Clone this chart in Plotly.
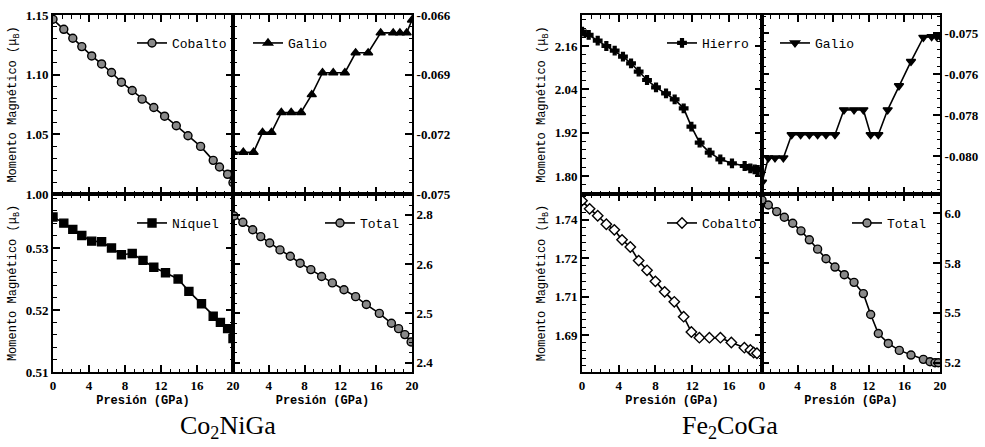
import plotly.graph_objects as go

W, H = 985, 447

# ---------------- data: Co2NiGa ----------------
co1_p = [0, 1.2, 2.2, 3.2, 4.3, 5.4, 6.5, 7.6, 8.8, 9.9, 11.2, 12.4, 13.7, 15.0, 16.4, 17.8, 18.5, 19.4, 20.0]
co1_m = [1.1464, 1.138, 1.1305, 1.1235, 1.1157, 1.109, 1.1018, 1.0937, 1.0867, 1.0795, 1.0725,
         1.0652, 1.0572, 1.0488, 1.0399, 1.0282, 1.0226, 1.0165, 1.0095]

ga1_p = [0, 1.15, 2.3, 3.3, 4.3, 5.4, 6.5, 7.6, 8.8, 10.0, 11.2, 12.5, 13.7, 15.1, 16.5, 17.9, 18.65, 19.4, 20.0]
ga1_m = [-0.0729, -0.0729, -0.0729, -0.0719, -0.0719, -0.0709, -0.0709, -0.0709, -0.0700, -0.0689,
         -0.0689, -0.0689, -0.0679, -0.0679, -0.0669, -0.0669, -0.0669, -0.0669, -0.06625]

ni_p = [0, 1.2, 2.2, 3.2, 4.3, 5.4, 6.5, 7.6, 8.8, 10.0, 11.2, 12.5, 13.9, 15.1, 16.5, 17.8, 18.6, 19.4, 20.0]
ni_m = [0.5350, 0.5340, 0.5330, 0.5320, 0.5311, 0.5310, 0.5300, 0.5289, 0.5291, 0.5280, 0.5269,
        0.5260, 0.5250, 0.5230, 0.5210, 0.5190, 0.5180, 0.5170, 0.5154]

tot1_p = [0.1, 1.1, 2.2, 3.1, 4.1, 5.25, 6.4, 7.5, 8.7, 9.9, 11.1, 12.4, 13.7, 14.9, 16.35, 17.7, 18.5, 19.2, 19.9]
tot1_m = [2.698, 2.685, 2.670, 2.656, 2.643, 2.629, 2.616, 2.602, 2.589, 2.575, 2.562,
          2.548, 2.534, 2.518, 2.500, 2.480, 2.469, 2.457, 2.442]

# ---------------- data: Fe2CoGa ----------------
fe_p = [0, 0.73, 1.71, 2.65, 3.56, 4.46, 5.34, 6.17, 7.08, 8.06, 9.15, 10.09, 11.07, 11.91, 12.81,
        13.9, 15.06, 16.33, 17.71, 18.33, 18.8, 19.13]
fe_m = [2.1997, 2.1905, 2.1748, 2.16, 2.1471, 2.1305, 2.112, 2.0889, 2.0658, 2.0455, 2.0289,
        2.0122, 1.9873, 1.9365, 1.8922, 1.8645, 1.846, 1.835, 1.8276, 1.8211, 1.8183, 1.8165]

ga2_p = [0, 0.71, 1.46, 2.4, 3.33, 4.34, 5.32, 6.25, 7.19, 8.2, 9.21, 10.34, 11.39, 12.21, 13.07,
         14.12, 15.39, 16.74, 18.13, 19.06, 19.63, 20.0]
ga2_m = [-0.08045, -0.07956, -0.07956, -0.07956, -0.07871, -0.07871, -0.07871, -0.07871, -0.07871,
         -0.07871, -0.07780, -0.07780, -0.07780, -0.07871, -0.07871, -0.07780, -0.07692, -0.07603,
         -0.07515, -0.07512, -0.07512, -0.07510]

cob2_p = [0, 0.83, 1.71, 2.65, 3.52, 4.36, 5.26, 6.17, 7.08, 7.99, 9.0, 10.05, 11.07, 11.91, 12.78,
          13.87, 15.07, 16.26, 17.68, 18.33, 18.69, 19.05]
cob2_m = [1.7475, 1.7443, 1.7416, 1.7383, 1.7361, 1.7322, 1.7294, 1.7241, 1.7203, 1.7160, 1.7119,
          1.7080, 1.7022, 1.6962, 1.6940, 1.6940, 1.6940, 1.6921, 1.6901, 1.6892, 1.6882, 1.6879]

tot2_p = [0, 0.71, 1.65, 2.51, 3.45, 4.38, 5.32, 6.25, 7.19, 8.2, 9.25, 10.34, 11.39, 12.21, 13.07,
          14.19, 15.43, 16.74, 18.13, 18.88, 19.44, 19.81]
tot2_m = [6.0667, 6.0417, 6.0083, 5.98, 5.95, 5.9117, 5.8667, 5.82, 5.7717, 5.73, 5.6917, 5.6533,
          5.5967, 5.4917, 5.3967, 5.3467, 5.3117, 5.2883, 5.2667, 5.255, 5.25, 5.25]

# ---------------- tick labels ----------------
co1_tv, co1_tt = [1.00, 1.05, 1.10, 1.15], ["1.00", "1.05", "1.10", "1.15"]
ga1_tv, ga1_tt = [-0.075, -0.072, -0.069, -0.066], ["-0.075", "-0.072", "-0.069", "-0.066"]
ni_tv, ni_tt = [0.51, 0.52, 0.53], ["0.51", "0.52", "0.53"]
tot1_tv, tot1_tt = [2.4, 2.5, 2.6, 2.7], ["2.4", "2.5", "2.6", "2.8"]
fe_tv, fe_tt = [1.80, 1.92, 2.04, 2.16], ["1.80", "1.92", "2.04", "2.16"]
ga2_tv, ga2_tt = [-0.0795, -0.078, -0.0765, -0.075], ["-0.080", "-0.078", "-0.076", "-0.075"]
cob2_tv, cob2_tt = [1.695, 1.71, 1.725, 1.74], ["1.69", "1.71", "1.72", "1.74"]
tot2_tv, tot2_tt = [5.25, 5.5, 5.75, 6.0], ["5.2", "5.5", "5.8", "6.0"]

names = ["Cobalto", "Galio", "Níquel", "Total", "Hierro", "Galio", "Cobalto", "Total"]
captions = ["Co<sub>2</sub>NiGa", "Fe<sub>2</sub>CoGa"]
xtitle = "Presión (GPa)"
ytitle = "Momento Magnético (μ<sub>B</sub>)"

# ---------------- layout geometry (pixels) ----------------
def px_x(a, b):
    return [a / W, b / W]

def px_y(top, bottom):
    return [1 - bottom / H, 1 - top / H]

TOP = px_y(15, 194)
BOT = px_y(194, 372)

panels = [
    dict(p=co1_p, m=co1_m, xd=px_x(53, 233), yd=TOP, yr=[1.00, 1.15], tv=co1_tv, tt=co1_tt, mn=0.01,
         side="left", xr=[0, 20], xlab=None, sym="circle", fill="#8a8a8a", leg=(132, 43), ytitle=True),
    dict(p=ga1_p, m=ga1_m, xd=px_x(233, 412), yd=TOP, yr=[-0.075, -0.066], tv=ga1_tv, tt=ga1_tt, mn=0.0006,
         side="right", xr=[0, 20], xlab=None, sym="triangle-up", fill="black", leg=(248, 43), ytitle=False),
    dict(p=ni_p, m=ni_m, xd=px_x(53, 233), yd=BOT, yr=[0.51, 0.5387], tv=ni_tv, tt=ni_tt, mn=0.002,
         side="left", xr=[0, 20], xlab=[0, 4, 8, 12, 16, 20], sym="square", fill="black", leg=(132, 223), ytitle=True),
    dict(p=tot1_p, m=tot1_m, xd=px_x(233, 412), yd=BOT, yr=[2.381, 2.7425], tv=tot1_tv, tt=tot1_tt, mn=0.02,
         side="right", xr=[0, 20], xlab=[4, 8, 12, 16, 20], sym="circle", fill="#8a8a8a", leg=(320, 223), ytitle=False),
    dict(p=fe_p, m=fe_m, xd=px_x(582, 762), yd=TOP, yr=[1.750, 2.2458], tv=fe_tv, tt=fe_tt, mn=0.024,
         side="left", xr=[0, 19.6], xlab=None, sym="cross", fill="black", leg=(662, 43), ytitle=True),
    dict(p=ga2_p, m=ga2_m, xd=px_x(762, 940), yd=TOP, yr=[-0.08088, -0.07433], tv=ga2_tv, tt=ga2_tt, mn=0.0003,
         side="right", xr=[0, 20], xlab=None, sym="triangle-down", fill="black", leg=(775, 43), ytitle=False),
    dict(p=cob2_p, m=cob2_m, xd=px_x(582, 762), yd=BOT, yr=[1.6806, 1.7501], tv=cob2_tv, tt=cob2_tt, mn=0.003,
         side="left", xr=[0, 19.6], xlab=[0, 4, 8, 12, 16], sym="diamond", fill="white", leg=(662, 223), ytitle=True),
    dict(p=tot2_p, m=tot2_m, xd=px_x(762, 940), yd=BOT, yr=[5.2033, 6.0967], tv=tot2_tv, tt=tot2_tt, mn=0.05,
         side="right", xr=[0, 20], xlab=[0, 4, 8, 12, 16, 20], sym="circle", fill="#8a8a8a", leg=(847, 223), ytitle=False),
]

tickfont = dict(family="Liberation Serif", size=13, color="black", weight="bold")
monofont = dict(family="Liberation Mono", size=12, color="black")

fig = go.Figure()
layout = dict(
    width=W, height=H, margin=dict(l=0, r=0, t=0, b=0),
    paper_bgcolor="white", plot_bgcolor="white", template="none",
    showlegend=True,
)

for i, (pn, name) in enumerate(zip(panels, names), start=1):
    sfx = "" if i == 1 else str(i)
    legname = "legend" if i == 1 else f"legend{i}"
    msize = 7 if pn["sym"] == "cross" else 8
    fig.add_trace(go.Scatter(
        x=pn["p"], y=pn["m"], mode="lines+markers", name=name,
        xaxis=f"x{sfx}", yaxis=f"y{sfx}", legend=legname,
        line=dict(color="black", width=1.6),
        marker=dict(symbol=pn["sym"], size=msize,
                    color=pn["fill"], line=dict(color="black", width=1.4)),
    ))
    xa = dict(
        domain=pn["xd"], anchor=f"y{sfx}", range=pn["xr"], showgrid=False, zeroline=False,
        showline=True, linecolor="black", linewidth=2, mirror="ticks",
        ticks="inside", ticklen=7, tickwidth=1.5, tickcolor="black",
        tickmode="linear", tick0=0, dtick=4,
        minor=dict(dtick=1, tick0=0, ticks="inside", ticklen=3.5, tickwidth=1.2, tickcolor="black"),
        tickfont=tickfont, automargin=False,
    )
    if pn["xlab"] is None:
        xa["showticklabels"] = False
    else:
        xa.update(tickmode="array", tickvals=pn["xlab"], ticktext=[str(v) for v in pn["xlab"]])
        xa["title"] = dict(text=xtitle, font=dict(family="Liberation Mono", size=12, color="black", weight="bold"),
                           standoff=4)
    ya = dict(
        domain=pn["yd"], anchor=f"x{sfx}", range=pn["yr"], side=pn["side"], showgrid=False, zeroline=False,
        showline=True, linecolor="black", linewidth=2, mirror="ticks",
        ticks="inside", ticklen=7, tickwidth=1.5, tickcolor="black",
        tickmode="array", tickvals=pn["tv"], ticktext=pn["tt"],
        minor=dict(dtick=pn["mn"], tick0=pn["tv"][0], ticks="inside", ticklen=3.5, tickwidth=1.2, tickcolor="black"),
        tickfont=tickfont, automargin=False,
    )
    if pn["ytitle"]:
        ya["title"] = dict(text=ytitle, font=monofont, standoff=6)
    layout[f"xaxis{sfx}"] = xa
    layout[f"yaxis{sfx}"] = ya
    lx, ly = pn["leg"]
    layout[legname] = dict(
        x=lx / W, y=1 - ly / H, xanchor="left", yanchor="middle",
        bgcolor="rgba(0,0,0,0)", borderwidth=0,
        font=dict(family="Liberation Mono", size=13, color="black"),
        itemwidth=30,
    )

layout["annotations"] = [
    dict(text=captions[0], x=228 / W, y=1 - 445 / H, xref="paper", yref="paper",
         xanchor="center", yanchor="bottom", showarrow=False,
         font=dict(family="Liberation Serif", size=26, color="black")),
    dict(text=captions[1], x=730 / W, y=1 - 445 / H, xref="paper", yref="paper",
         xanchor="center", yanchor="bottom", showarrow=False,
         font=dict(family="Liberation Serif", size=26, color="black")),
]

fig.update_layout(**layout)
fig.write_html("out.html")
